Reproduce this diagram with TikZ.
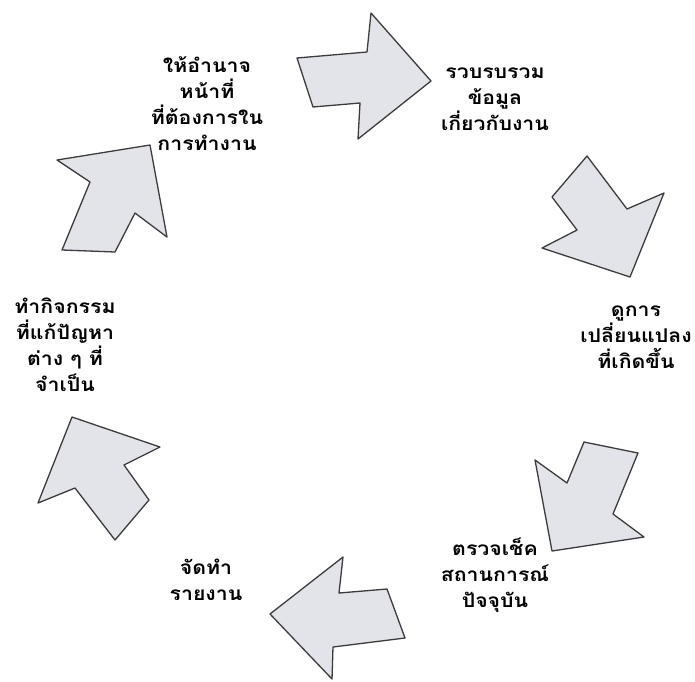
\documentclass[tikz,border=0pt]{standalone}
\usepackage{fontspec}
\usepackage{xcolor}
\usepackage{tikz}
\newfontfamily\thaifont[Script=Thai, FakeStretch=1.12]{Loma}
\definecolor{arrowfill}{RGB}{226,228,234}
\definecolor{arrowline}{RGB}{60,60,60}

\begin{document}
\begin{tikzpicture}[
  x=1pt, y=-1pt,
  blockarrow/.style={draw=arrowline, fill=arrowfill, line width=1.3pt, line join=round},
  lab/.style={font=\thaifont\bfseries\fontsize{19}{26}\selectfont, align=center, inner sep=0pt}
]
\useasboundingbox (0,0) rectangle (695,681);
% labels round the cycle
\node[lab] (give)   at (207,104) {ให้อำนาจ\\หน้าที่\\ที่ต้องการใน\\การทำงาน};
\node[lab] (gather) at (495,99)  {รวบรบรวม\\ข้อมูล\\เกี่ยวกับงาน};
\node[lab] (watch)  at (636,337) {ดูการ\\เปลี่ยนแปลง\\ที่เกิดขึ้น};
\node[lab] (check)  at (495,575) {ตรวจเช็ค\\สถานการณ์\\ปัจจุบัน};
\node[lab] (report) at (206,580) {จัดทำ\\รายงาน};
\node[lab] (act)    at (65,345)  {ทำกิจกรรม\\ที่แก้ปัญหา\\ต่าง ๆ ที่\\จำเป็น};
% block arrows: tip, inner side, tail, outer side
\draw[blockarrow] (431,81) -- (358,139) -- (360,103) -- (313,107) -- (297,58) -- (367,52) -- (371,13) -- cycle;
\draw[blockarrow] (630,277) -- (542,248) -- (577,230) -- (552,197) -- (587,156) -- (627,209) -- (664,193) -- cycle;
\draw[blockarrow] (552,551) -- (535,460) -- (567,483) -- (584,442) -- (638,453) -- (613,514) -- (644,537) -- cycle;
\draw[blockarrow] (270,614) -- (343,557) -- (339,593) -- (387,589) -- (405,638) -- (333,647) -- (332,679) -- cycle;
\draw[blockarrow] (72,417) -- (160,447) -- (124,465) -- (149,500) -- (115,540) -- (75,488) -- (38,503) -- cycle;
\draw[blockarrow] (150,145) -- (167,237) -- (135,213) -- (115,252) -- (62,250) -- (90,182) -- (57,160) -- cycle;
\end{tikzpicture}
\end{document}
